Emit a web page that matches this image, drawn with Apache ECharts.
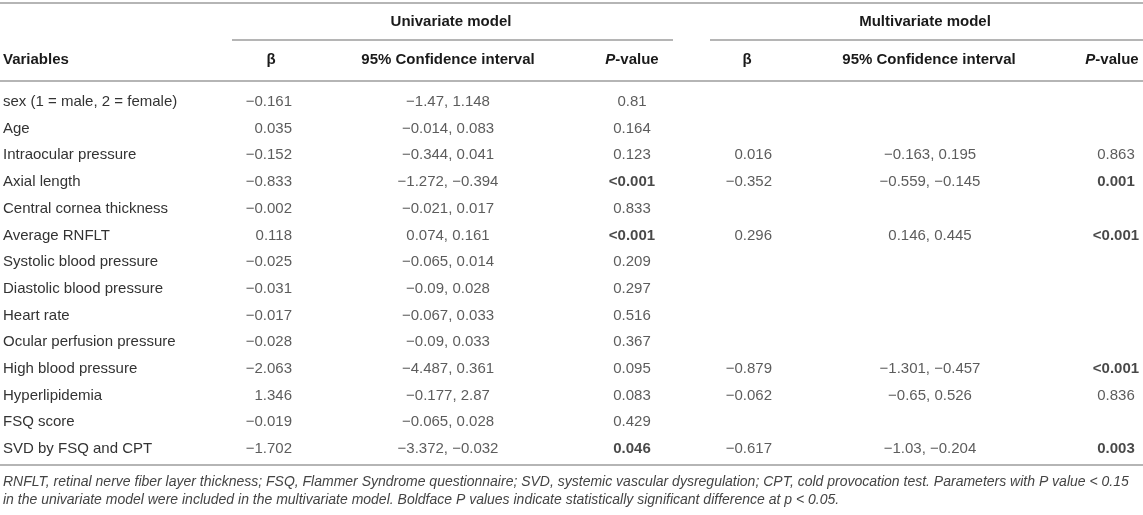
<!DOCTYPE html>
<html>
<head>
<meta charset="utf-8">
<script src="https://cdn.jsdelivr.net/npm/echarts@6/dist/echarts.min.js"></script>
<style>
  html, body { margin: 0; padding: 0; background: #fff; }
  #main { width: 1143px; height: 515px; }
</style>
</head>
<body>
<div id="main"></div>
<script>
// table rows
var variables = ['sex (1 = male, 2 = female)', 'Age', 'Intraocular pressure', 'Axial length',
  'Central cornea thickness', 'Average RNFLT', 'Systolic blood pressure', 'Diastolic blood pressure',
  'Heart rate', 'Ocular perfusion pressure', 'High blood pressure', 'Hyperlipidemia',
  'FSQ score', 'SVD by FSQ and CPT'];

// univariate model
var uniBeta = [-0.161, 0.035, -0.152, -0.833, -0.002, 0.118, -0.025, -0.031, -0.017, -0.028, -2.063, 1.346, -0.019, -1.702];
var uniLow  = [-1.47, -0.014, -0.344, -1.272, -0.021, 0.074, -0.065, -0.09, -0.067, -0.09, -4.487, -0.177, -0.065, -3.372];
var uniHigh = [1.148, 0.083, 0.041, -0.394, 0.017, 0.161, 0.014, 0.028, 0.033, 0.033, 0.361, 2.87, 0.028, -0.032];
var uniP    = [0.81, 0.164, 0.123, '<0.001', 0.833, '<0.001', 0.209, 0.297, 0.516, 0.367, 0.095, 0.083, 0.429, 0.046];

// multivariate model (null = not entered)
var multiBeta = [null, null, 0.016, -0.352, null, 0.296, null, null, null, null, -0.879, -0.062, null, -0.617];
var multiLow  = [null, null, -0.163, -0.559, null, 0.146, null, null, null, null, -1.301, -0.65, null, -1.03];
var multiHigh = [null, null, 0.195, -0.145, null, 0.445, null, null, null, null, -0.457, 0.526, null, -0.204];
var multiP    = [null, null, 0.863, '0.001', null, '<0.001', null, null, null, null, '<0.001', 0.836, null, 0.003];

var footnote1 = 'RNFLT, retinal nerve fiber layer thickness; FSQ, Flammer Syndrome questionnaire; SVD, systemic vascular dysregulation; CPT, cold provocation test. Parameters with P value < 0.15';
var footnote2 = 'in the univariate model were included in the multivariate model. Boldface P values indicate statistically significant difference at p < 0.05.';

var FONT = '"Liberation Sans", Arial, Helvetica, sans-serif';
var FS = 15;
var TXT = '#333';
var HEAD = '#1a1a1a';
var RULE = '#b5b5b5';

function fmt(v) {
  return String(v).replace(/-/g, '\u2212');
}
function isSig(p) {
  if (typeof p === 'string') return p.charAt(0) === '<' || parseFloat(p) < 0.05;
  return p < 0.05;
}

// one scatter series per column, labels carry the cell text
function textSeries(name, x, align, texts, bolds) {
  var data = [];
  for (var i = 0; i < texts.length; i++) {
    if (texts[i] == null) continue;
    data.push({
      value: [x, i],
      txt: texts[i],
      label: { fontWeight: bolds && bolds[i] ? 'bold' : 'normal', color: bolds && bolds[i] ? HEAD : TXT }
    });
  }
  return {
    name: name,
    type: 'scatter',
    symbolSize: 1,
    itemStyle: { color: 'rgba(0,0,0,0)' },
    silent: true,
    data: data,
    label: {
      show: true,
      position: 'inside',
      align: align,
      verticalAlign: 'middle',
      fontFamily: FONT,
      fontSize: FS,
      color: TXT,
      formatter: function (p) { return p.data.txt; }
    }
  };
}

var uBetaTxt = uniBeta.map(fmt);
var uCiTxt = uniLow.map(function (v, i) { return fmt(v) + ', ' + fmt(uniHigh[i]); });
var uPTxt = uniP.map(fmt);
var uPBold = uniP.map(isSig);
var mBetaTxt = multiBeta.map(function (v) { return v == null ? null : fmt(v); });
var mCiTxt = multiLow.map(function (v, i) { return v == null ? null : fmt(v) + ', ' + fmt(multiHigh[i]); });
var mPTxt = multiP.map(function (v) { return v == null ? null : fmt(v); });
var mPBold = multiP.map(function (v) { return v != null && isSig(v); });

var myChart = echarts.init(document.getElementById('main'));

function hline(x1, x2, y) {
  return { type: 'line', shape: { x1: x1, y1: y, x2: x2, y2: y }, style: { stroke: RULE, lineWidth: 2 }, silent: true };
}
function htext(x, y, text, align, rich) {
  return {
    type: 'text', x: x, y: y,
    style: {
      text: text, align: align, verticalAlign: 'middle',
      font: 'bold ' + FS + 'px ' + FONT, fill: HEAD,
      rich: rich
    }
  };
}
var pRich = {
  i: { fontStyle: 'italic', fontWeight: 'bold', fontSize: FS, fontFamily: FONT, fill: HEAD },
  n: { fontWeight: 'bold', fontSize: FS, fontFamily: FONT, fill: HEAD }
};

var option = {
  animation: false,
  backgroundColor: '#fff',
  textStyle: { fontFamily: FONT },
  grid: { left: 0, right: 0, top: 88.6, height: 373.8 },
  xAxis: { type: 'value', min: 0, max: 1143, show: false },
  yAxis: {
    type: 'category',
    inverse: true,
    data: variables,
    axisLine: { show: false },
    axisTick: { show: false },
    splitLine: { show: false },
    axisLabel: { inside: true, margin: 3, fontSize: FS, color: TXT, fontFamily: FONT }
  },
  series: [
    textSeries('uBeta', 292, 'right', uBetaTxt),
    textSeries('uCI', 448, 'center', uCiTxt),
    textSeries('uP', 632, 'center', uPTxt, uPBold),
    textSeries('mBeta', 772, 'right', mBetaTxt),
    textSeries('mCI', 930, 'center', mCiTxt),
    textSeries('mP', 1116, 'center', mPTxt, mPBold)
  ],
  graphic: [
    hline(0, 1143, 3),
    hline(232, 673, 40),
    hline(710, 1143, 40),
    hline(0, 1143, 81),
    hline(0, 1143, 465),
    htext(451, 22, 'Univariate model', 'center'),
    htext(925, 22, 'Multivariate model', 'center'),
    htext(3, 60, 'Variables', 'left'),
    htext(271, 60, '\u03b2', 'center'),
    htext(448, 60, '95% Confidence interval', 'center'),
    htext(632, 60, '{i|P}{n|-value}', 'center', pRich),
    htext(747, 60, '\u03b2', 'center'),
    htext(929, 60, '95% Confidence interval', 'center'),
    htext(1112, 60, '{i|P}{n|-value}', 'center', pRich),
    {
      type: 'text', x: 3, y: 482,
      style: { text: footnote1, verticalAlign: 'middle', font: 'italic 14px ' + FONT, fill: '#444' }
    },
    {
      type: 'text', x: 3, y: 500,
      style: { text: footnote2, verticalAlign: 'middle', font: 'italic 14px ' + FONT, fill: '#444' }
    }
  ]
};

myChart.setOption(option);
</script>
</body>
</html>
